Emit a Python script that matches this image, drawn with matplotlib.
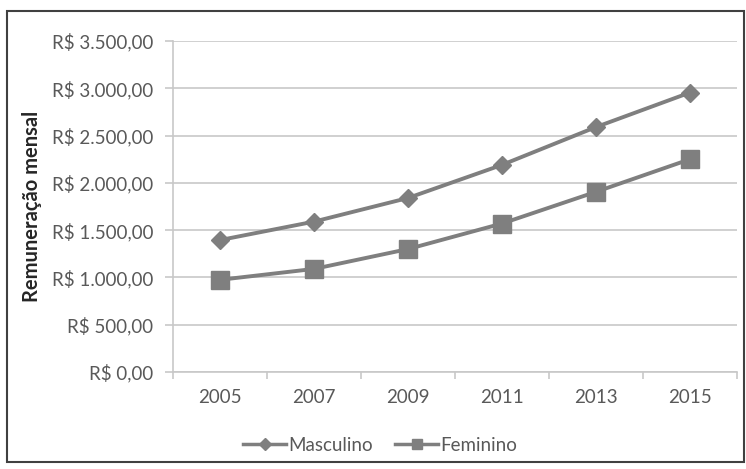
import matplotlib.pyplot as plt
from matplotlib.lines import Line2D
from matplotlib.patches import Rectangle
from matplotlib.ticker import FuncFormatter, MultipleLocator

anos = ['2005', '2007', '2009', '2011', '2013', '2015']
masculino = [1395, 1590, 1840, 2190, 2590, 2955]
feminino = [975, 1090, 1300, 1570, 1905, 2250]

cor_linha = '#7f7f7f'
cor_texto = '#595959'
cor_grade = '#c8c8c8'

plt.rcParams['font.family'] = ['Lato', 'DejaVu Sans']

fig = plt.figure(figsize=(7.46, 4.69), dpi=100)
ax = fig.add_axes([173 / 746, 1 - 372 / 469, (737 - 173) / 746, (372 - 41) / 469])

x = range(len(anos))
ax.plot(x, masculino, color=cor_linha, lw=2.8, marker='D', ms=9, zorder=3)
ax.plot(x, feminino, color=cor_linha, lw=2.8, marker='s', ms=13, zorder=3)

ax.set_xlim(-0.5, len(anos) - 0.5)
ax.set_ylim(0, 3500)
ax.yaxis.set_major_locator(MultipleLocator(500))


def reais(v, pos):
    s = f'{v:,.2f}'.replace(',', 'X').replace('.', ',').replace('X', '.')
    return 'R$ ' + s


ax.yaxis.set_major_formatter(FuncFormatter(reais))
ax.set_xticks(list(x))
ax.set_xticklabels(anos)
ax.set_xticks([i - 0.5 for i in range(len(anos) + 1)], minor=True)
ax.tick_params(axis='x', which='major', length=0, pad=12, labelsize=13.5, labelcolor=cor_texto)
ax.tick_params(axis='x', which='minor', length=5, color=cor_grade, width=1.2)
ax.tick_params(axis='y', length=6, color=cor_grade, width=1.2, pad=8,
               labelsize=13.5, labelcolor=cor_texto)

ax.grid(axis='y', color=cor_grade, lw=1.2)
ax.set_axisbelow(True)
for lado in ['top', 'right']:
    ax.spines[lado].set_visible(False)
for lado in ['left', 'bottom']:
    ax.spines[lado].set_color(cor_grade)
    ax.spines[lado].set_linewidth(1.2)

ax.set_ylabel('Remuneração mensal', fontsize=14.5, fontweight='bold', color='#262626')
ax.yaxis.set_label_coords((42 - 173) / 564, 0.5)

handles = [Line2D([], [], color=cor_linha, lw=2.5, marker='D', ms=6),
           Line2D([], [], color=cor_linha, lw=2.5, marker='s', ms=7)]
fig.legend(handles, ['Masculino', 'Feminino'], loc='center',
           bbox_to_anchor=(380 / 746, 1 - 445 / 469), ncol=2,
           frameon=False, fontsize=13.5, labelcolor=cor_texto,
           handlelength=2.3, handletextpad=0.1, columnspacing=1.2)

fig.patches.append(Rectangle((7 / 746, 1 - 462 / 469), (744 - 7) / 746, (462 - 11) / 469,
                             transform=fig.transFigure, fill=False,
                             edgecolor='#404040', lw=1.5))

fig.savefig('out.png', dpi=100)
